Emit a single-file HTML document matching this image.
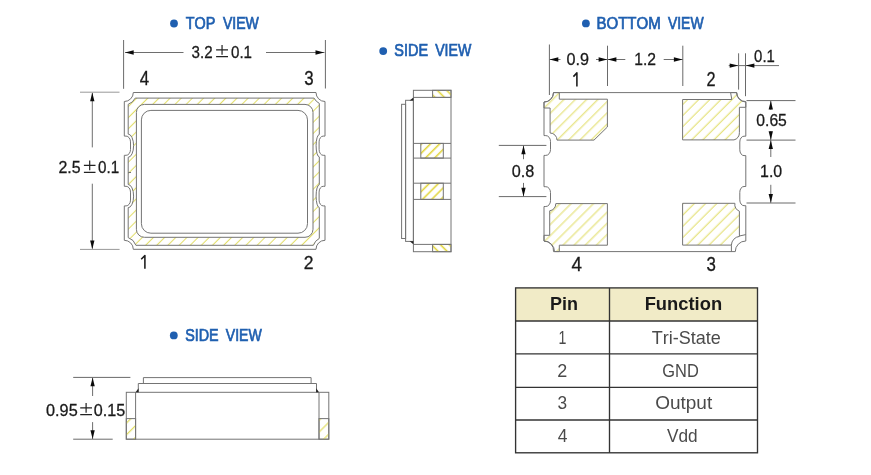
<!DOCTYPE html>
<html><head><meta charset="utf-8"><style>
html,body{margin:0;padding:0;background:#fff;}
svg{display:block;will-change:transform;font-family:"Liberation Sans", sans-serif;font-kerning:none;}
</style></head><body>
<svg width="871" height="475" viewBox="0 0 871 475">
<rect width="871" height="475" fill="#fff"/>
<circle cx="174" cy="23.5" r="3.9" fill="#1f5fb0"/><text transform="translate(185.68,28.50) scale(0.9000,1)" font-size="15.99" fill="#1f5fb0" stroke="#1f5fb0" stroke-width="0.7">TOP</text><text transform="translate(222.94,28.50) scale(0.8788,1)" font-size="15.99" fill="#1f5fb0" stroke="#1f5fb0" stroke-width="0.7">VIEW</text><circle cx="383.2" cy="51.1" r="3.9" fill="#1f5fb0"/><text transform="translate(394.34,56.20) scale(0.8734,1)" font-size="16.57" fill="#1f5fb0" stroke="#1f5fb0" stroke-width="0.7">SIDE</text><text transform="translate(435.14,56.20) scale(0.8527,1)" font-size="16.57" fill="#1f5fb0" stroke="#1f5fb0" stroke-width="0.7">VIEW</text><circle cx="585.9" cy="23.4" r="3.9" fill="#1f5fb0"/><text transform="translate(596.47,28.50) scale(0.9327,1)" font-size="16.13" fill="#1f5fb0" stroke="#1f5fb0" stroke-width="0.7">BOTTOM</text><text transform="translate(667.94,28.50) scale(0.8636,1)" font-size="16.13" fill="#1f5fb0" stroke="#1f5fb0" stroke-width="0.7">VIEW</text><circle cx="173.8" cy="335.4" r="3.9" fill="#1f5fb0"/><text transform="translate(185.15,341.20) scale(0.8654,1)" font-size="16.57" fill="#1f5fb0" stroke="#1f5fb0" stroke-width="0.7">SIDE</text><text transform="translate(225.74,341.20) scale(0.8503,1)" font-size="16.57" fill="#1f5fb0" stroke="#1f5fb0" stroke-width="0.7">VIEW</text><defs><pattern id="hTV" width="7.884" height="20" patternUnits="userSpaceOnUse" patternTransform="rotate(45)"><line x1="-7.460" y1="-1" x2="-7.460" y2="21" stroke="#e0dc60" stroke-width="1.0"/><line x1="0.424" y1="-1" x2="0.424" y2="21" stroke="#e0dc60" stroke-width="1.0"/><line x1="8.309" y1="-1" x2="8.309" y2="21" stroke="#e0dc60" stroke-width="1.0"/></pattern><pattern id="h1" width="7.990" height="20" patternUnits="userSpaceOnUse" patternTransform="rotate(45)"><line x1="-2.192" y1="-1" x2="-2.192" y2="21" stroke="#e0dc60" stroke-width="1.0"/><line x1="5.798" y1="-1" x2="5.798" y2="21" stroke="#e0dc60" stroke-width="1.0"/><line x1="13.789" y1="-1" x2="13.789" y2="21" stroke="#e0dc60" stroke-width="1.0"/></pattern><pattern id="h2" width="7.849" height="20" patternUnits="userSpaceOnUse" patternTransform="rotate(45)"><line x1="-0.707" y1="-1" x2="-0.707" y2="21" stroke="#e0dc60" stroke-width="1.0"/><line x1="7.142" y1="-1" x2="7.142" y2="21" stroke="#e0dc60" stroke-width="1.0"/><line x1="14.991" y1="-1" x2="14.991" y2="21" stroke="#e0dc60" stroke-width="1.0"/></pattern><pattern id="h3" width="7.969" height="20" patternUnits="userSpaceOnUse" patternTransform="rotate(45)"><line x1="-2.737" y1="-1" x2="-2.737" y2="21" stroke="#e0dc60" stroke-width="1.0"/><line x1="5.233" y1="-1" x2="5.233" y2="21" stroke="#e0dc60" stroke-width="1.0"/><line x1="13.202" y1="-1" x2="13.202" y2="21" stroke="#e0dc60" stroke-width="1.0"/></pattern><pattern id="h4" width="7.884" height="20" patternUnits="userSpaceOnUse" patternTransform="rotate(45)"><line x1="-4.031" y1="-1" x2="-4.031" y2="21" stroke="#e0dc60" stroke-width="1.0"/><line x1="3.854" y1="-1" x2="3.854" y2="21" stroke="#e0dc60" stroke-width="1.0"/><line x1="11.738" y1="-1" x2="11.738" y2="21" stroke="#e0dc60" stroke-width="1.0"/></pattern><pattern id="hSa" width="6.647" height="20" patternUnits="userSpaceOnUse" patternTransform="rotate(-45)"><line x1="-0.566" y1="-1" x2="-0.566" y2="21" stroke="#e2d640" stroke-width="1.6"/><line x1="6.081" y1="-1" x2="6.081" y2="21" stroke="#e2d640" stroke-width="1.6"/><line x1="12.728" y1="-1" x2="12.728" y2="21" stroke="#e2d640" stroke-width="1.6"/></pattern><pattern id="hSb" width="6.435" height="20" patternUnits="userSpaceOnUse" patternTransform="rotate(45)"><line x1="-5.728" y1="-1" x2="-5.728" y2="21" stroke="#e2d640" stroke-width="1.6"/><line x1="0.707" y1="-1" x2="0.707" y2="21" stroke="#e2d640" stroke-width="1.6"/><line x1="7.142" y1="-1" x2="7.142" y2="21" stroke="#e2d640" stroke-width="1.6"/></pattern><pattern id="hSc" width="6.505" height="20" patternUnits="userSpaceOnUse" patternTransform="rotate(45)"><line x1="-2.546" y1="-1" x2="-2.546" y2="21" stroke="#e2d640" stroke-width="1.6"/><line x1="3.960" y1="-1" x2="3.960" y2="21" stroke="#e2d640" stroke-width="1.6"/><line x1="10.465" y1="-1" x2="10.465" y2="21" stroke="#e2d640" stroke-width="1.6"/></pattern><pattern id="hSd" width="6.364" height="20" patternUnits="userSpaceOnUse" patternTransform="rotate(-45)"><line x1="-1.556" y1="-1" x2="-1.556" y2="21" stroke="#e2d640" stroke-width="1.6"/><line x1="4.808" y1="-1" x2="4.808" y2="21" stroke="#e2d640" stroke-width="1.6"/><line x1="11.172" y1="-1" x2="11.172" y2="21" stroke="#e2d640" stroke-width="1.6"/></pattern><pattern id="hLa" width="8.273" height="20" patternUnits="userSpaceOnUse" patternTransform="rotate(45)"><line x1="-0.283" y1="-1" x2="-0.283" y2="21" stroke="#e0dc60" stroke-width="1.2"/><line x1="7.990" y1="-1" x2="7.990" y2="21" stroke="#e0dc60" stroke-width="1.2"/><line x1="16.263" y1="-1" x2="16.263" y2="21" stroke="#e0dc60" stroke-width="1.2"/></pattern><pattern id="hLb" width="8.344" height="20" patternUnits="userSpaceOnUse" patternTransform="rotate(45)"><line x1="-2.899" y1="-1" x2="-2.899" y2="21" stroke="#e0dc60" stroke-width="1.2"/><line x1="5.445" y1="-1" x2="5.445" y2="21" stroke="#e0dc60" stroke-width="1.2"/><line x1="13.789" y1="-1" x2="13.789" y2="21" stroke="#e0dc60" stroke-width="1.2"/></pattern></defs><path d="M135.2,98.1 H314.05 A12.3,12.3 0 0 0 319.3,103.4 V134.50 A3.2,11.2 0 0 0 319.3,156.90 V184.70 A3.2,11.4 0 0 0 319.3,207.50 V238.4 A12.3,12.3 0 0 0 313.4,245.3 H135.9 A12.3,12.3 0 0 0 128.2,237.6 V207.70 A5.4,11.6 0 0 0 128.2,184.50 V157.30 A5.4,11.6 0 0 0 128.2,134.10 V104.3 A12.3,12.3 0 0 0 135.2,98.1 Z M144.4,104.4 H305.0 A8,8 0 0 1 313.0,112.4 V229.3 A8,8 0 0 1 305.0,237.3 H144.4 A8,8 0 0 1 136.4,229.3 V112.4 A8,8 0 0 1 144.4,104.4 Z" fill="url(#hTV)" fill-rule="evenodd" stroke="none"/><path d="M133.3,92.5 H316.0 A9,9 0 0 0 325.0,101.5 V136.10 H323.20 A4.10,5.8 0 0 0 319.10,141.90 V149.50 A4.10,5.8 0 0 0 323.20,155.30 H325.0 V186.30 H323.20 A4.10,5.8 0 0 0 319.10,192.10 V200.10 A4.10,5.8 0 0 0 323.20,205.90 H325.0 V240.3 A9,9 0 0 0 316.0,249.3 H133.3 A9,9 0 0 0 124.3,240.3 V205.90 H126.10 A4.40,5.8 0 0 0 130.50,200.10 V192.10 A4.40,5.8 0 0 0 126.10,186.30 H124.3 V155.30 H126.10 A4.40,5.8 0 0 0 130.50,149.50 V141.90 A4.40,5.8 0 0 0 126.10,136.10 H124.3 V101.5 A9,9 0 0 0 133.3,92.5 Z" fill="none" stroke="#747474" stroke-width="1.0"/><path d="M135.2,98.1 H314.05 A12.3,12.3 0 0 0 319.3,103.4 V134.50 A3.2,11.2 0 0 0 319.3,156.90 V184.70 A3.2,11.4 0 0 0 319.3,207.50 V238.4 A12.3,12.3 0 0 0 313.4,245.3 H135.9 A12.3,12.3 0 0 0 128.2,237.6 V207.70 A5.4,11.6 0 0 0 128.2,184.50 V157.30 A5.4,11.6 0 0 0 128.2,134.10 V104.3 A12.3,12.3 0 0 0 135.2,98.1 Z" fill="none" stroke="#747474" stroke-width="1.0"/><path d="M144.4,104.4 H305.0 A8,8 0 0 1 313.0,112.4 V229.3 A8,8 0 0 1 305.0,237.3 H144.4 A8,8 0 0 1 136.4,229.3 V112.4 A8,8 0 0 1 144.4,104.4 Z" fill="none" stroke="#747474" stroke-width="1.0"/><rect x="141.4" y="110.4" width="166.1" height="122.79999999999998" rx="9.5" fill="none" stroke="#747474" stroke-width="1.0"/><line x1="128.2" y1="172.5" x2="131" y2="172.5" stroke="#747474" stroke-width="1"/><line x1="123.6" y1="40" x2="123.6" y2="88.8" stroke="#6a6a6a" stroke-width="1"/><line x1="325.4" y1="40" x2="325.4" y2="88.5" stroke="#6a6a6a" stroke-width="1"/><line x1="125" y1="52.5" x2="183.5" y2="52.5" stroke="#6e6e6e" stroke-width="1"/><line x1="266" y1="52.5" x2="324.5" y2="52.5" stroke="#6e6e6e" stroke-width="1"/><polygon points="125.00,52.50 133.70,50.35 133.70,54.65" fill="#0a0a0a"/><polygon points="324.20,52.50 315.50,50.35 315.50,54.65" fill="#0a0a0a"/><text transform="translate(191.62,57.60) scale(0.9351,1)" font-size="16.18" fill="#1a1a1a" stroke="#1a1a1a" stroke-width="0.28">3.2</text><path d="M216.1,49.800000000000004 H228 M222.05,44.900000000000006 V54.7 M216.1,56.7 H228" stroke="#222" stroke-width="1.2" fill="none"/><text transform="translate(231.01,57.60) scale(0.9348,1)" font-size="16.18" fill="#1a1a1a" stroke="#1a1a1a" stroke-width="0.28">0.1</text><line x1="80" y1="92.2" x2="119.5" y2="92.2" stroke="#999" stroke-width="1"/><line x1="80" y1="249.4" x2="119.6" y2="249.4" stroke="#999" stroke-width="1"/><line x1="92.3" y1="93" x2="92.3" y2="147.4" stroke="#6e6e6e" stroke-width="1"/><line x1="92.3" y1="183.7" x2="92.3" y2="248.5" stroke="#6e6e6e" stroke-width="1"/><polygon points="92.30,92.60 90.15,101.30 94.45,101.30" fill="#0a0a0a"/><polygon points="92.30,249.20 90.15,240.50 94.45,240.50" fill="#0a0a0a"/><text transform="translate(58.50,173.20) scale(0.9684,1)" font-size="16.47" fill="#1a1a1a" stroke="#1a1a1a" stroke-width="0.28">2.5</text><path d="M83.9,165.39999999999998 H95.5 M89.7,160.5 V170.29999999999998 M83.9,172.29999999999998 H95.5" stroke="#222" stroke-width="1.2" fill="none"/><text transform="translate(98.01,173.20) scale(0.9232,1)" font-size="16.47" fill="#1a1a1a" stroke="#1a1a1a" stroke-width="0.28">0.1</text><text transform="translate(139.71,85.00) scale(0.8726,1)" font-size="19.33" fill="#1a1a1a" stroke="#1a1a1a" stroke-width="0.3">4</text><text transform="translate(304.26,85.30) scale(0.8663,1)" font-size="19.48" fill="#1a1a1a" stroke="#1a1a1a" stroke-width="0.3">3</text><text transform="translate(303.82,268.70) scale(0.9360,1)" font-size="18.76" fill="#1a1a1a" stroke="#1a1a1a" stroke-width="0.3">2</text><text transform="translate(706.58,86.20) scale(0.8401,1)" font-size="19.33" fill="#1a1a1a" stroke="#1a1a1a" stroke-width="0.3">2</text><text transform="translate(571.47,270.50) scale(0.9537,1)" font-size="19.77" fill="#1a1a1a" stroke="#1a1a1a" stroke-width="0.3">4</text><text transform="translate(706.46,270.80) scale(0.8663,1)" font-size="19.48" fill="#1a1a1a" stroke="#1a1a1a" stroke-width="0.3">3</text><path d="M141.2,259.2 L144.9,255.6 V268.7 M573.4,76.6 L576.9,72.9 V86.4" fill="none" stroke="#1a1a1a" stroke-width="1.55" stroke-linejoin="round"/><g fill="none" stroke="#747474" stroke-width="1.0"><rect x="413.4" y="90.3" width="37.6" height="161.4"/><rect x="405.6" y="100.3" width="7.8" height="141.1"/><rect x="401.6" y="104.3" width="4" height="134.2"/></g><rect x="432.6" y="90.3" width="18.399999999999977" height="7.1000000000000085" fill="url(#hSa)" stroke="#747474" stroke-width="1.0"/><rect x="420.8" y="143.4" width="22.5" height="14.699999999999989" fill="url(#hSb)" stroke="#747474" stroke-width="1.0"/><rect x="420.8" y="183.2" width="22.5" height="16.200000000000017" fill="url(#hSc)" stroke="#747474" stroke-width="1.0"/><rect x="432.6" y="244.4" width="18.399999999999977" height="7.299999999999983" fill="url(#hSd)" stroke="#747474" stroke-width="1.0"/><line x1="413.4" y1="97.4" x2="451" y2="97.4" stroke="#747474" stroke-width="1.0"/><line x1="413.4" y1="143.4" x2="451" y2="143.4" stroke="#747474" stroke-width="1.0"/><line x1="413.4" y1="158.1" x2="451" y2="158.1" stroke="#747474" stroke-width="1.0"/><line x1="413.4" y1="183.2" x2="451" y2="183.2" stroke="#747474" stroke-width="1.0"/><line x1="413.4" y1="199.4" x2="451" y2="199.4" stroke="#747474" stroke-width="1.0"/><line x1="413.4" y1="244.4" x2="451" y2="244.4" stroke="#747474" stroke-width="1.0"/><polygon points="413.4,97.6 413.4,100.6 409.6,100.6" fill="#222"/><polygon points="413.4,244.2 413.4,241.2 409.6,241.2" fill="#222"/><path d="M553.5,92.6 H559.3 V99.2 H607.4 V127 L594,140.1 H557 A7,7 0 0 0 550.1,133 V108 H544 V102 A9.5,9.5 0 0 0 553.5,92.6 Z" fill="url(#h1)" stroke="#747474" stroke-width="1.0"/><path d="M736.5,92.6 H730.6 L731.8,99.5 H682.6 V139.9 H734 A7,7 0 0 0 739.4,132.7 V107.3 H745.8 V102 A9.5,9.5 0 0 1 736.5,92.6 Z" fill="url(#h2)" stroke="#747474" stroke-width="1.0"/><path d="M555.8,203.6 H607.4 V245.2 H559.3 V251.6 H553.5 A9.5,9.5 0 0 0 544,241 V235.3 H549.7 V210.8 A7,7 0 0 0 555.8,203.6 Z" fill="url(#h4)" stroke="#747474" stroke-width="1.0"/><path d="M682.6,203.3 H734.9 A7,7 0 0 0 739.4,211.2 V236.4 A9,9 0 0 0 731.4,245.1 H682.6 Z" fill="url(#h3)" stroke="#747474" stroke-width="1.0"/><path d="M553.5,92.6 H736.8 A9,9 0 0 0 745.8,101.6 V136.20 H744.00 A4.20,5.8 0 0 0 739.80,142.00 V149.80 A4.20,5.8 0 0 0 744.00,155.60 H745.8 V186.50 H744.00 A4.20,5.8 0 0 0 739.80,192.30 V199.90 A4.20,5.8 0 0 0 744.00,205.70 H745.8 V241.0 A10.5,10.5 0 0 0 735.3,251.6 H554.5 A10.5,10.5 0 0 0 544.0,241.1 V206.50 H545.80 A4.70,5.8 0 0 0 550.50,200.70 V192.50 A4.70,5.8 0 0 0 545.80,186.70 H544.0 V155.40 H545.80 A4.70,5.8 0 0 0 550.50,149.60 V141.40 A4.70,5.8 0 0 0 545.80,135.60 H544.0 V102.1 A9.5,9.5 0 0 0 553.5,92.6 Z" fill="none" stroke="#747474" stroke-width="1.0"/><path d="M739.4,236 L745.8,234.6 M731.4,245.2 V251.6" fill="none" stroke="#747474" stroke-width="1"/><line x1="549.4" y1="44.5" x2="549.4" y2="95" stroke="#6a6a6a" stroke-width="1"/><line x1="607.5" y1="45.7" x2="607.5" y2="86" stroke="#6a6a6a" stroke-width="1"/><line x1="682.8" y1="45.7" x2="682.8" y2="86" stroke="#6a6a6a" stroke-width="1"/><line x1="738.6" y1="53.3" x2="738.6" y2="89.6" stroke="#6a6a6a" stroke-width="1"/><line x1="745.5" y1="53.3" x2="745.5" y2="96.2" stroke="#6a6a6a" stroke-width="1"/><line x1="549.4" y1="59.5" x2="560.5" y2="59.5" stroke="#6e6e6e" stroke-width="1"/><line x1="596" y1="59.5" x2="607.5" y2="59.5" stroke="#6e6e6e" stroke-width="1"/><polygon points="549.60,59.50 558.30,57.35 558.30,61.65" fill="#0a0a0a"/><polygon points="607.30,59.50 598.60,57.35 598.60,61.65" fill="#0a0a0a"/><text transform="translate(566.57,65.40) scale(0.9496,1)" font-size="17.04" fill="#1a1a1a" stroke="#1a1a1a" stroke-width="0.28">0.9</text><line x1="607.5" y1="59.5" x2="625.3" y2="59.5" stroke="#6e6e6e" stroke-width="1"/><line x1="663.7" y1="59.5" x2="682.8" y2="59.5" stroke="#6e6e6e" stroke-width="1"/><polygon points="607.70,59.50 616.40,57.35 616.40,61.65" fill="#0a0a0a"/><polygon points="682.60,59.50 673.90,57.35 673.90,61.65" fill="#0a0a0a"/><text transform="translate(634.21,65.30) scale(0.9272,1)" font-size="16.90" fill="#1a1a1a" stroke="#1a1a1a" stroke-width="0.28">1.2</text><line x1="728.7" y1="65.6" x2="779" y2="65.6" stroke="#6e6e6e" stroke-width="1"/><polygon points="738.40,65.60 729.70,63.45 729.70,67.75" fill="#0a0a0a"/><polygon points="745.70,65.60 754.40,63.45 754.40,67.75" fill="#0a0a0a"/><text transform="translate(754.12,61.70) scale(0.9205,1)" font-size="16.18" fill="#1a1a1a" stroke="#1a1a1a" stroke-width="0.28">0.1</text><line x1="746.5" y1="100.6" x2="795.5" y2="100.6" stroke="#6a6a6a" stroke-width="1"/><line x1="746.5" y1="140.1" x2="795.5" y2="140.1" stroke="#6a6a6a" stroke-width="1"/><line x1="746.5" y1="203.0" x2="795.5" y2="203.0" stroke="#6a6a6a" stroke-width="1"/><line x1="770.8" y1="100.6" x2="770.8" y2="110" stroke="#6e6e6e" stroke-width="1"/><line x1="770.8" y1="131" x2="770.8" y2="157" stroke="#6e6e6e" stroke-width="1"/><line x1="770.8" y1="184.8" x2="770.8" y2="203" stroke="#6e6e6e" stroke-width="1"/><polygon points="770.80,100.80 768.65,109.50 772.95,109.50" fill="#0a0a0a"/><polygon points="770.80,139.90 768.65,131.20 772.95,131.20" fill="#0a0a0a"/><polygon points="770.80,140.30 768.65,149.00 772.95,149.00" fill="#0a0a0a"/><polygon points="770.80,202.80 768.65,194.10 772.95,194.10" fill="#0a0a0a"/><text transform="translate(756.29,126.10) scale(0.9455,1)" font-size="16.61" fill="#1a1a1a" stroke="#1a1a1a" stroke-width="0.28">0.65</text><text transform="translate(760.09,177.20) scale(0.9503,1)" font-size="16.76" fill="#1a1a1a" stroke="#1a1a1a" stroke-width="0.28">1.0</text><line x1="498.8" y1="145.4" x2="546.4" y2="145.4" stroke="#6a6a6a" stroke-width="1"/><line x1="498.8" y1="196.6" x2="546.4" y2="196.6" stroke="#6a6a6a" stroke-width="1"/><line x1="523.5" y1="145.5" x2="523.5" y2="159.2" stroke="#6e6e6e" stroke-width="1"/><line x1="523.5" y1="182.9" x2="523.5" y2="196.4" stroke="#6e6e6e" stroke-width="1"/><polygon points="523.50,145.60 521.35,154.30 525.65,154.30" fill="#0a0a0a"/><polygon points="523.50,196.40 521.35,187.70 525.65,187.70" fill="#0a0a0a"/><text transform="translate(511.77,177.20) scale(0.9676,1)" font-size="16.76" fill="#1a1a1a" stroke="#1a1a1a" stroke-width="0.28">0.8</text><g fill="none" stroke="#747474" stroke-width="1.0"><path d="M143.4,383.5 V377.6 H311.1 V383.5"/><path d="M138.3,392.3 V383.5 H316.5 V392.3"/><rect x="126.3" y="392.3" width="202.5" height="46.9"/><path d="M135.6,392.3 V439.2 M319,392.3 V439.2"/></g><rect x="126.3" y="418.6" width="9.3" height="20.6" fill="url(#hLa)" stroke="#747474" stroke-width="1.0"/><rect x="319" y="418.6" width="9.8" height="20.6" fill="url(#hLb)" stroke="#747474" stroke-width="1.0"/><polygon points="135.6,392.3 138.5,392.3 138.5,388.3" fill="#222"/><polygon points="319,392.3 316.2,392.3 316.2,388.3" fill="#222"/><line x1="73.2" y1="377.4" x2="130.4" y2="377.4" stroke="#6a6a6a" stroke-width="1"/><line x1="73.2" y1="439.2" x2="112.7" y2="439.2" stroke="#6a6a6a" stroke-width="1"/><line x1="92.6" y1="378" x2="92.6" y2="396" stroke="#6e6e6e" stroke-width="1"/><line x1="92.6" y1="422.1" x2="92.6" y2="439" stroke="#6e6e6e" stroke-width="1"/><polygon points="92.60,377.60 90.45,386.30 94.75,386.30" fill="#0a0a0a"/><polygon points="92.60,439.00 90.45,430.30 94.75,430.30" fill="#0a0a0a"/><text transform="translate(46.07,415.60) scale(1.0038,1)" font-size="16.18" fill="#1a1a1a" stroke="#1a1a1a" stroke-width="0.28">0.95</text><path d="M80.2,407.8 H92 M86.1,402.90000000000003 V412.70000000000005 M80.2,414.70000000000005 H92" stroke="#222" stroke-width="1.2" fill="none"/><text transform="translate(93.77,415.60) scale(0.9972,1)" font-size="16.18" fill="#1a1a1a" stroke="#1a1a1a" stroke-width="0.28">0.15</text><rect x="515.6" y="287.9" width="241.89999999999998" height="33.10000000000002" fill="#f1ebc7"/><rect x="515.6" y="287.9" width="241.89999999999998" height="164.90000000000003" fill="none" stroke="#333" stroke-width="1.35"/><line x1="515.6" y1="321.0" x2="757.5" y2="321.0" stroke="#333" stroke-width="1.35"/><line x1="515.6" y1="353.8" x2="757.5" y2="353.8" stroke="#333" stroke-width="1.35"/><line x1="515.6" y1="387.4" x2="757.5" y2="387.4" stroke="#333" stroke-width="1.35"/><line x1="515.6" y1="420.0" x2="757.5" y2="420.0" stroke="#333" stroke-width="1.35"/><line x1="609.5" y1="287.9" x2="609.5" y2="452.8" stroke="#333" stroke-width="1.35"/><text transform="translate(549.90,310.30) scale(0.9758,1)" font-size="18.46" font-weight="bold" fill="#1a1a1a">Pin</text><text transform="translate(644.67,310.40) scale(1.0101,1)" font-size="18.17" font-weight="bold" fill="#1a1a1a">Function</text><text transform="translate(558.42,343.50) scale(0.7604,1)" font-size="18.60" fill="#4a4a4a">1</text><text transform="translate(651.70,343.50) scale(0.9688,1)" font-size="18.60" fill="#4a4a4a">Tri-State</text><text transform="translate(557.19,376.60) scale(1.0136,1)" font-size="17.76" fill="#4a4a4a">2</text><text transform="translate(662.27,376.60) scale(0.9116,1)" font-size="18.02" fill="#4a4a4a">GND</text><text transform="translate(557.44,409.40) scale(0.9509,1)" font-size="18.19" fill="#4a4a4a">3</text><text transform="translate(655.20,409.40) scale(1.0293,1)" font-size="18.46" fill="#4a4a4a">Output</text><text transform="translate(557.70,442.00) scale(0.9612,1)" font-size="18.17" fill="#4a4a4a">4</text><text transform="translate(666.92,442.00) scale(0.9493,1)" font-size="18.17" fill="#4a4a4a">Vdd</text>
</svg>
</body></html>
